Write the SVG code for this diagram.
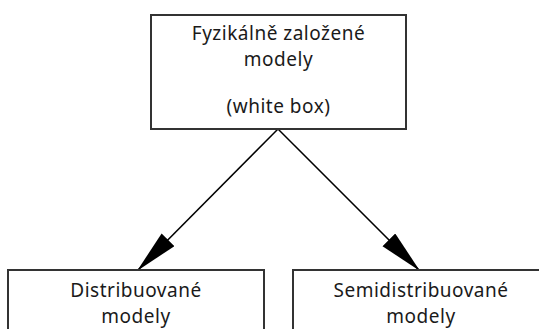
<svg xmlns="http://www.w3.org/2000/svg" width="539" height="329" viewBox="0 0 539 329">
  <style>
    .box { fill: #ffffff; stroke: #333333; stroke-width: 2; }
    .lbl { font-family: "Noto Sans", "Open Sans", sans-serif; font-size: 19px; letter-spacing: 0.5px; fill: #1a1a1a; text-anchor: middle; }
    .edge { fill: none; stroke: #000000; stroke-width: 1.5; }
  </style>
  <defs>
    <marker id="arrow" markerUnits="userSpaceOnUse" markerWidth="46" markerHeight="20" refX="44" refY="9" orient="auto">
      <path d="M0,0 L44,9 L0,18 Z" fill="#000000"/>
    </marker>
  </defs>
  <rect width="539" height="329" fill="#ffffff"/>
  <g id="connectors">
    <path class="edge" d="M278,129 L137,271" marker-end="url(#arrow)"/>
    <path class="edge" d="M278,129 L420,271" marker-end="url(#arrow)"/>
  </g>
  <g id="node-physical">
    <rect class="box" x="151" y="15" width="255" height="114"/>
    <text class="lbl" x="278.5" y="40">Fyzikálně založené</text>
    <text class="lbl" x="278.5" y="66">modely</text>
    <text class="lbl" x="278.5" y="113">(white box)</text>
  </g>
  <g id="node-distributed">
    <rect class="box" x="8" y="270" width="256" height="80"/>
    <text class="lbl" x="136" y="297">Distribuované</text>
    <text class="lbl" x="136" y="323">modely</text>
  </g>
  <g id="node-semidistributed">
    <rect class="box" x="293" y="270" width="256" height="80"/>
    <text class="lbl" x="421" y="297">Semidistribuované</text>
    <text class="lbl" x="421" y="323">modely</text>
  </g>
</svg>
